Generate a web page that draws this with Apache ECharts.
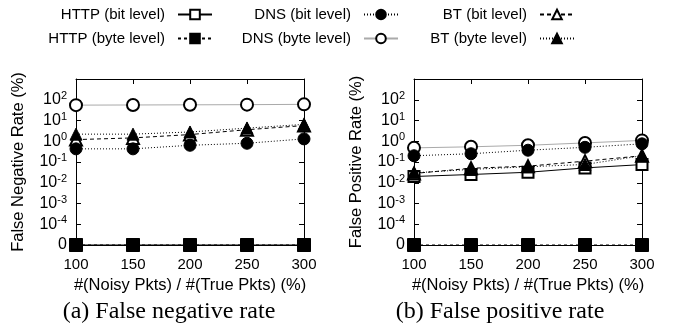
<!DOCTYPE html>
<html>
<head>
<meta charset="utf-8">
<script src="https://cdn.jsdelivr.net/npm/echarts@6/dist/echarts.min.js"></script>
<style>html,body{margin:0;padding:0;background:#fff}#c{width:673px;height:328px}</style>
</head>
<body>
<div id="c"></div>
<script>
// ---- data (percent values; 0 means exactly zero) ----
const xValues = [100, 150, 200, 250, 300];
const yExponents = [-5, -4, -3, -2, -1, 0, 1, 2, 3]; // -5 is the "0" row, 3 is top (no label)
const seriesNames = ['HTTP (bit level)', 'HTTP (byte level)', 'DNS (bit level)', 'DNS (byte level)', 'BT (bit level)', 'BT (byte level)'];

const httpBitFN  = [0, 0, 0, 0, 0];
const httpByteFN = [0, 0, 0, 0, 0];
const dnsBitFN   = [0.43, 0.43, 0.64, 0.8, 1.3];
const dnsByteFN  = [55, 56, 57, 58, 60];
const btBitFN    = [1.2, 1.45, 2.1, 3.6, 5.7];
const btByteFN   = [2.2, 2.2, 2.8, 4.3, 6.5];

const httpBitFP  = [0.020, 0.025, 0.032, 0.052, 0.075];
const httpByteFP = [0, 0, 0, 0, 0];
const dnsBitFP   = [0.2, 0.25, 0.37, 0.51, 0.75];
const dnsByteFP  = [0.48, 0.54, 0.64, 0.83, 1.1];
const btBitFP    = [0.028, 0.05, 0.063, 0.11, 0.2];
const btByteFP   = [0.03, 0.044, 0.059, 0.076, 0.2];

const xTitle = '#(Noisy Pkts) / #(True Pkts) (%)';
const yTitles = ['False Negative Rate (%)', 'False Positive Rate (%)'];
const captions = ['(a) False negative rate', '(b) False positive rate'];

// ---- build ----
const ZERO = -5;
function toLog(v) { return v > 0 ? Math.log10(v) : ZERO; }
function pts(arr) { return arr.map((v, i) => [xValues[i], toLog(v)]); }

const styles = {
  'HTTP (bit level)':  {symbol: 'emptyRect', size: 11, line: {type: 'solid', color: '#000'}, z: 2},
  'HTTP (byte level)': {symbol: 'rect', size: 13, line: {type: [3, 3], color: '#000'}, z: 6},
  'DNS (bit level)':   {symbol: 'circle', size: 12, line: {type: [1, 2], color: '#000'}, z: 5},
  'DNS (byte level)':  {symbol: 'emptyCircle', size: 12, line: {type: 'solid', color: '#aaa'}, z: 2},
  'BT (bit level)':    {symbol: 'emptyTriangle', size: 12, line: {type: [4, 3], color: '#000'}, z: 3},
  'BT (byte level)':   {symbol: 'triangle', size: 12, line: {type: [1, 2], color: '#000'}, z: 4}
};

const panels = [
  [httpBitFN, httpByteFN, dnsBitFN, dnsByteFN, btBitFN, btByteFN],
  [httpBitFP, httpByteFP, dnsBitFP, dnsByteFP, btBitFP, btByteFP]
];

const FONT = 'Liberation Sans';
const grids = [
  {left: 76, top: 79, width: 228, height: 166},
  {left: 414, top: 79, width: 228, height: 166}
];

const xAxes = [], yAxes = [], series = [];
grids.forEach((g, gi) => {
  const common = {gridIndex: gi, type: 'value', min: 100, max: 300, interval: 50,
    axisLine: {show: true, onZero: false, lineStyle: {color: '#000', width: 1}},
    axisTick: {show: true, inside: true, length: 5, lineStyle: {color: '#000'}},
    splitLine: {show: false}};
  xAxes.push(Object.assign({}, common, {position: 'bottom',
    axisLabel: {color: '#000', fontSize: 15, fontFamily: FONT, margin: 12},
    name: xTitle, nameLocation: 'middle', nameGap: 31,
    nameTextStyle: {color: '#000', fontSize: 16.5, fontFamily: FONT}}));
  xAxes.push(Object.assign({}, common, {position: 'top', axisLabel: {show: false}}));
  const ycommon = {gridIndex: gi, type: 'value', min: -5, max: 3, interval: 1,
    axisLine: {show: true, onZero: false, lineStyle: {color: '#000', width: 1}},
    axisTick: {show: true, inside: true, length: 5, lineStyle: {color: '#000'}},
    splitLine: {show: false}};
  yAxes.push(Object.assign({}, ycommon, {position: 'left',
    axisLabel: {color: '#000', fontFamily: FONT, margin: 9,
      formatter: function (v) {
        if (v === yExponents[0]) return '{b|0}';
        if (v === yExponents[yExponents.length - 1]) return '';
        return '{b|10}{s|' + v + '}';
      },
      rich: {
        b: {fontSize: 16, fontFamily: FONT, color: '#000', lineHeight: 19},
        s: {fontSize: 11, fontFamily: FONT, color: '#000', verticalAlign: 'top', lineHeight: 11}
      }},
    name: yTitles[gi], nameLocation: 'middle', nameGap: 49,
    nameTextStyle: {color: '#000', fontSize: 16.5, fontFamily: FONT}}));
  yAxes.push(Object.assign({}, ycommon, {position: 'right', axisLabel: {show: false}}));

  panels[gi].forEach((arr, si) => {
    const name = seriesNames[si];
    const st = styles[name];
    series.push({
      name: name, type: 'line', xAxisIndex: gi * 2, yAxisIndex: gi * 2,
      data: pts(arr), symbol: st.symbol, symbolSize: st.size, showSymbol: true,
      clip: false, z: st.z,
      lineStyle: {type: st.line.type, color: st.line.color, width: 1},
      itemStyle: {color: '#000', borderColor: '#000', borderWidth: 1},
      emphasis: {disabled: true}
    });
  });
});

// legends: one per item, icon right of text, right-aligned columns
const colRight = [213, 399, 575];
const rowTop = [7, 31];
const legends = [];
seriesNames.forEach((name, i) => {
  const col = Math.floor(i / 2), row = i % 2;
  legends.push({
    data: [name], right: 673 - colRight[col], top: rowTop[row], orient: 'horizontal',
    align: 'right', padding: 0, itemWidth: 34, itemHeight: 12, selectedMode: false,
    textStyle: {color: '#000', fontSize: 15, fontFamily: FONT, padding: [0, 8, 0, 0]}
  });
});

const option = {
  animation: false,
  backgroundColor: '#fff',
  grid: grids,
  xAxis: xAxes,
  yAxis: yAxes,
  legend: legends,
  series: series,
  graphic: [
    {type: 'text', x: 169, y: 312, style: {text: captions[0], font: '24px "Liberation Serif"', fill: '#000', align: 'center', verticalAlign: 'middle', textAlign: 'center', textVerticalAlign: 'middle'}},
    {type: 'text', x: 500, y: 312, style: {text: captions[1], font: '24px "Liberation Serif"', fill: '#000', align: 'center', verticalAlign: 'middle', textAlign: 'center', textVerticalAlign: 'middle'}}
  ]
};

const chart = echarts.init(document.getElementById('c'), null, {renderer: 'canvas'});
chart.setOption(option);
</script>
</body>
</html>
